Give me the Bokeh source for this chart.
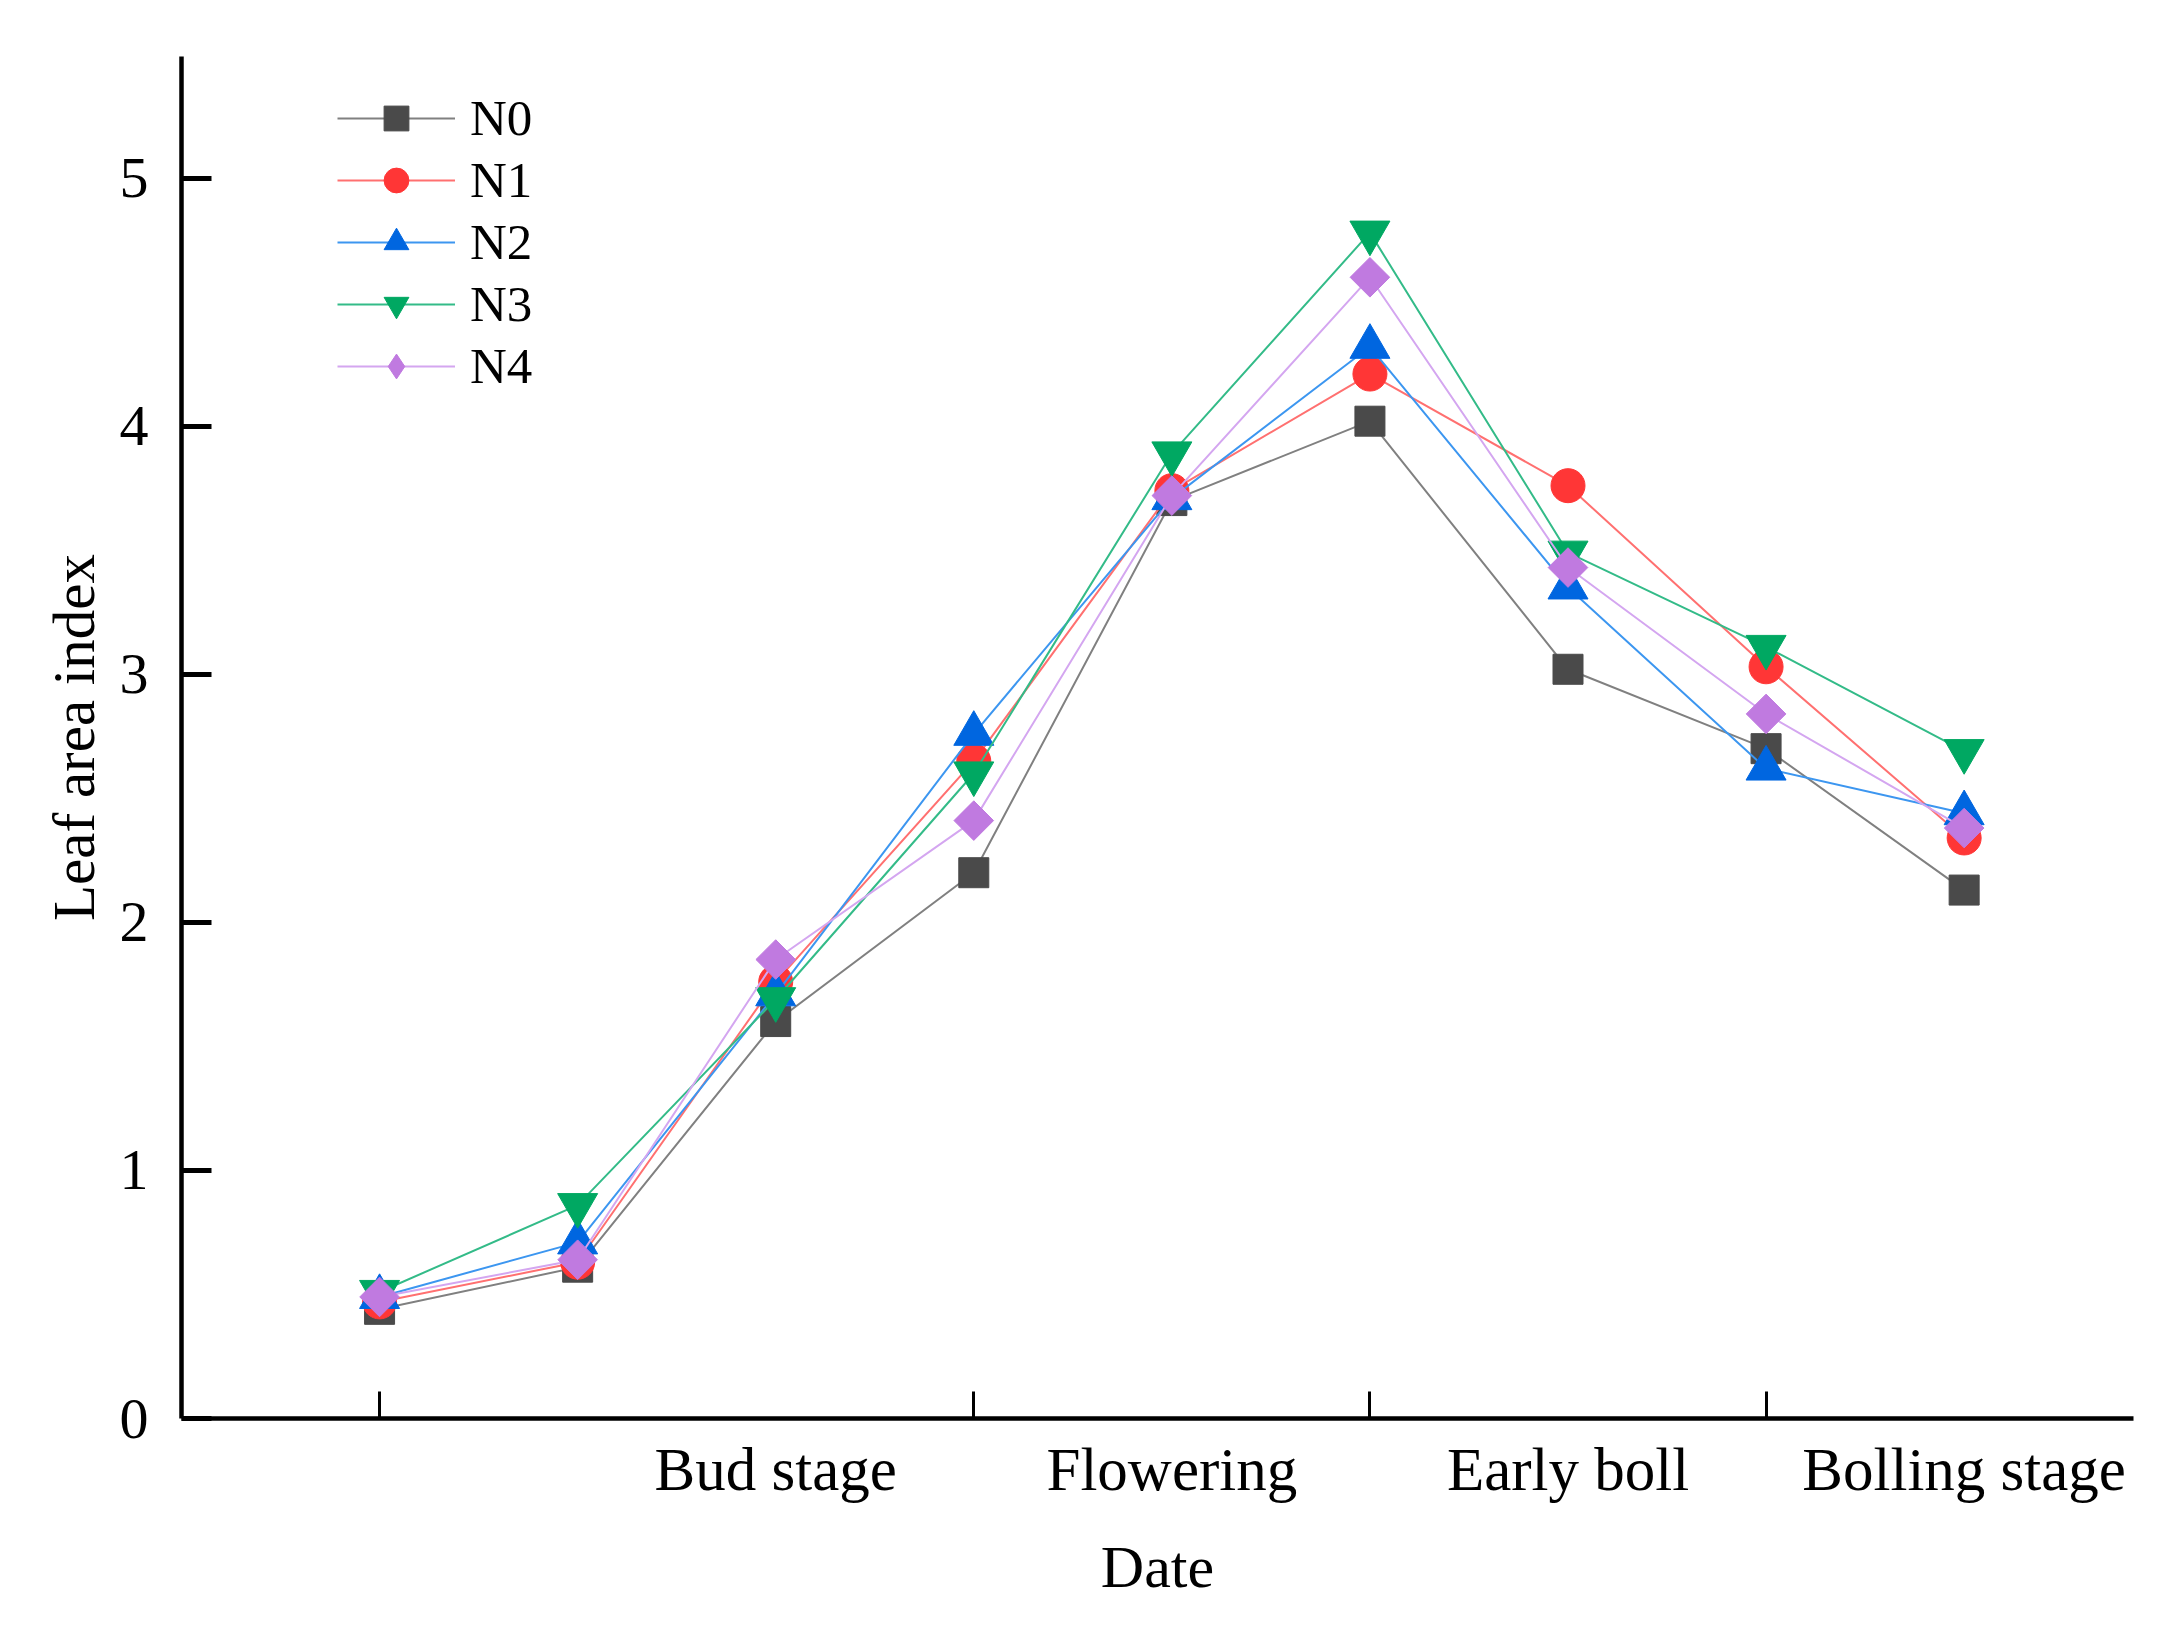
import math
from bokeh.plotting import figure
from bokeh.models import FixedTicker, Range1d, Legend, LegendItem
from bokeh.embed import file_html
from bokeh.resources import INLINE

# ---- data ----
x_idx = [0, 1, 2, 3, 4, 5, 6, 7, 8]
stage_ticks = [2, 4, 6, 8]
stage_labels = ["Bud stage", "Flowering", "Early boll", "Bolling stage"]
minor_tick_pos = [0, 3, 5, 7]
y_ticks = [0, 1, 2, 3, 4, 5]

N0 = [0.44, 0.61, 1.60, 2.20, 3.70, 4.02, 3.02, 2.70, 2.13]
N1 = [0.47, 0.63, 1.76, 2.65, 3.74, 4.21, 3.76, 3.03, 2.34]
N2 = [0.49, 0.71, 1.71, 2.76, 3.71, 4.32, 3.35, 2.62, 2.44]
N3 = [0.51, 0.86, 1.69, 2.60, 3.89, 4.78, 3.49, 3.11, 2.69]
N4 = [0.49, 0.64, 1.85, 2.41, 3.72, 4.60, 3.43, 2.84, 2.38]

series = [
    ("N0", N0, "square", "#4a4a4a", "#808080", 30, 0.0, "square"),
    ("N1", N1, "circle", "#ff3636", "#ff7070", 34, 0.0, "circle"),
    ("N2", N2, "triangle", "#0066e0", "#3c96f0", 40, 0.0, "triangle"),
    ("N3", N3, "inverted_triangle", "#00a862", "#33bb88", 40, 0.0, "inverted_triangle"),
    ("N4", N4, "square", "#c07ae0", "#d4a6f0", 28, math.pi / 4, "diamond"),
]

FONT = "Liberation Serif"

p = figure(width=2168, height=1627, output_backend="svg", toolbar_location=None,
           x_range=Range1d(-1.0, 8.855), y_range=Range1d(0, 5.49),
           min_border_left=181, min_border_right=35, min_border_top=56, min_border_bottom=209)
p.outline_line_color = None
p.grid.visible = False
p.background_fill_color = "white"

items = []
for name, vals, mk, mcol, lcol, sz, ang, legmk in series:
    r1 = p.line(x_idx, vals, line_color=lcol, line_width=2)
    if legmk != mk:
        # diamond drawn underneath the rotated squares (hidden), used for the legend shape
        r3 = p.scatter(x_idx, vals, marker=legmk, size=34,
                       fill_color=mcol, line_color=mcol, line_width=1)
    r2 = p.scatter(x_idx, vals, marker=mk, size=sz, angle=ang,
                   fill_color=mcol, line_color=mcol, line_width=1)
    if legmk != mk:
        items.append(LegendItem(label=name, renderers=[r1, r3]))
    else:
        items.append(LegendItem(label=name, renderers=[r1, r2]))

legend = Legend(items=items, location=(156, 1021))
legend.glyph_width = 118
legend.glyph_height = 62
legend.label_height = 62
legend.label_standoff = 15
legend.spacing = 0
legend.padding = 0
legend.margin = 0
legend.border_line_alpha = 0
legend.background_fill_alpha = 0
legend.label_text_font = FONT
legend.label_text_font_size = "51px"
legend.label_text_color = "black"
p.add_layout(legend)

# x axis
xa = p.xaxis[0]
xa.ticker = FixedTicker(ticks=stage_ticks, minor_ticks=minor_tick_pos)
xa.major_label_overrides = {t: l for t, l in zip(stage_ticks, stage_labels)}
xa.major_tick_line_color = None
xa.minor_tick_in = 27
xa.minor_tick_out = 0
xa.minor_tick_line_width = 3
xa.minor_tick_line_color = "black"
xa.axis_line_width = 4.5
xa.axis_line_color = "black"
xa.major_label_text_font = FONT
xa.major_label_text_font_size = "61px"
xa.major_label_text_color = "black"
xa.major_label_standoff = 11
xa.axis_label = "Date"
xa.axis_label_text_font = FONT
xa.axis_label_text_font_size = "60px"
xa.axis_label_text_font_style = "normal"
xa.axis_label_text_color = "black"
xa.axis_label_standoff = 28

# y axis
ya = p.yaxis[0]
ya.ticker = FixedTicker(ticks=y_ticks, minor_ticks=[])
ya.major_tick_in = 30
ya.major_tick_out = 0
ya.major_tick_line_width = 5
ya.major_tick_line_color = "black"
ya.axis_line_width = 4.5
ya.axis_line_color = "black"
ya.major_label_text_font = FONT
ya.major_label_text_font_size = "58px"
ya.major_label_text_color = "black"
ya.major_label_standoff = 33
ya.axis_label = "Leaf area index"
ya.axis_label_text_font = FONT
ya.axis_label_text_font_size = "59px"
ya.axis_label_text_font_style = "normal"
ya.axis_label_text_color = "black"
ya.axis_label_standoff = 10

open("out.html", "w").write(file_html(p, INLINE))
